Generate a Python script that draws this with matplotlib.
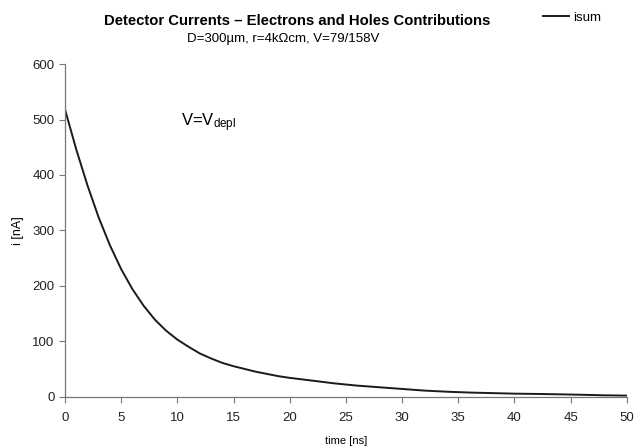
import numpy as np
import matplotlib
matplotlib.use("Agg")
import matplotlib.pyplot as plt

plt.rcParams['font.family'] = ['Liberation Sans', 'DejaVu Sans']
plt.rcParams['mathtext.fontset'] = 'custom'
plt.rcParams['mathtext.rm'] = 'Liberation Sans'
plt.rcParams['mathtext.it'] = 'Liberation Sans'

# detector current vs time
time_ns = [0, 1, 2, 3, 4, 5, 6, 7, 8, 9, 10, 11, 12, 13, 14, 15, 16, 17, 18, 19,
           20, 22, 24, 26, 28, 30, 32, 34, 36, 38, 40, 42, 44, 46, 48, 50]
isum = [518, 446, 381, 323, 273, 230, 194, 164, 139, 119, 103, 90, 78, 69, 61, 55,
        50, 45, 41, 37, 34, 29, 24, 20, 17, 14, 11, 9, 7.5, 6.5, 5.5, 5, 4.3, 3.5, 2.5, 2]

xticks = np.arange(0, 51, 5)
yticks = np.arange(0, 601, 100)

fig = plt.figure(figsize=(6.35, 4.48), dpi=100)
ax = fig.add_axes([0.1024, 0.1145, 0.8846, 0.7425])

ax.plot(time_ns, isum, color='#1a1a1a', lw=1.4, label='isum')

ax.set_xlim(0, 50)
ax.set_ylim(0, 600)
ax.set_xticks(xticks)
ax.set_yticks(yticks)
ax.tick_params(labelsize=9.5, labelcolor='#222222', length=4, width=0.8,
               direction='out', color='#777777')
ax.tick_params(axis='x', pad=7)
for side in ['top', 'right']:
    ax.spines[side].set_visible(False)
for side in ['left', 'bottom']:
    ax.spines[side].set_color('#777777')
    ax.spines[side].set_linewidth(0.9)

ax.set_xlabel('time [ns]', fontsize=8, labelpad=9)
ax.set_ylabel('i [nA]', fontsize=9, labelpad=6)

fig.text(0.468, 0.953, 'Detector Currents \u2013 Electrons and Holes Contributions',
         ha='center', va='center', fontsize=10.7, fontweight='bold')
fig.text(0.446, 0.913, 'D=300\u00b5m, r=4k\u03a9cm, V=79/158V',
         ha='center', va='center', fontsize=9.5)

ax.text(10.3, 494, r'V=V$_{\mathrm{depl}}$', fontsize=12, ha='left', va='center')

fig.legend(loc='upper right', bbox_to_anchor=(0.965, 1.0), frameon=False,
           fontsize=9.5, handlelength=2.0, handletextpad=0.3)

fig.savefig('out.png', dpi=100)
